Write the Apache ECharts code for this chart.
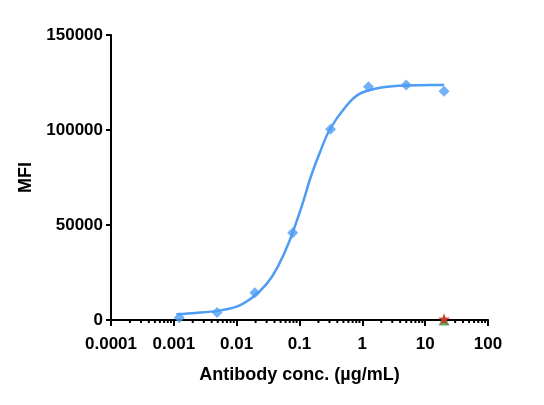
<!DOCTYPE html>
<html lang="en">
<head>
    <meta charset="UTF-8">
    <title>Antibody binding</title>
    <style>
        html, body { margin: 0; padding: 0; background: #fff; }
    </style>
</head>
<body>
    <div id="chartDiv" style="width: 544px;height:405px;"></div>
</body>
<script type="text/javascript" src="https://cdn.jsdelivr.net/npm/echarts@6/dist/echarts.min.js"></script>
<script type="text/javascript">
    // measured points (ug/mL, MFI)
    var concList = [0.00122, 0.00488, 0.0195, 0.078, 0.3125, 1.25, 5, 20];
    var mfiList = [1200, 4000, 14400, 45900, 100400, 122800, 123700, 120400];

    // fitted curve
    var curveX = [0.0011, 0.0022, 0.005, 0.01, 0.018, 0.03, 0.045, 0.07, 0.11, 0.15, 0.21, 0.3, 0.55, 0.9, 1.9, 4, 8, 20];
    var curveY = [3000, 3700, 4800, 7000, 12000, 19000, 28000, 42000, 60500, 75000, 88000, 100000, 112500, 119000, 122200, 123300, 123600, 123700];

    // negative controls at top concentration
    var ctrlGreen = [[20, 0]];
    var ctrlRed = [[20, 0]];

    var xTickLabels = ['0.0001', '0.001', '0.01', '0.1', '1', '10', '100'];
    var yTicks = [0, 50000, 100000, 150000];

    // minor tick values between decades
    var minorTicks = [];
    for (var d = -4; d < 2; d++) {
        for (var k = 2; k <= 9; k++) {
            minorTicks.push(k * Math.pow(10, d));
        }
    }

    var myChart = echarts.init(document.getElementById('chartDiv'));
    var fontFamily = 'Liberation Sans, Arial, sans-serif';
    var blue = '#4f9cf5';

    var option = {
        animation: false,
        grid: { left: 111, right: 56, top: 35, bottom: 85 },
        xAxis: {
            type: 'log',
            logBase: 10,
            min: 0.0001,
            max: 100,
            name: 'Antibody conc. (µg/mL)',
            nameLocation: 'middle',
            nameGap: 46,
            nameTextStyle: { color: '#000', fontWeight: 'bold', fontSize: 18, fontFamily: fontFamily },
            axisLine: { lineStyle: { color: '#000', width: 2 } },
            axisTick: { length: 6, lineStyle: { color: '#000', width: 2 } },
            splitLine: { show: false },
            axisLabel: {
                color: '#000', fontWeight: 'bold', fontSize: 17, fontFamily: fontFamily, margin: 16,
                formatter: function (value, index) { return xTickLabels[index]; }
            }
        },
        yAxis: {
            type: 'value',
            min: yTicks[0],
            max: yTicks[yTicks.length - 1],
            interval: 50000,
            name: 'MFI',
            nameLocation: 'middle',
            nameGap: 70,
            nameTextStyle: { color: '#000', fontWeight: 'bold', fontSize: 18, fontFamily: fontFamily },
            axisLine: { show: true, lineStyle: { color: '#000', width: 2 } },
            axisTick: { show: true, length: 5, lineStyle: { color: '#000', width: 2 } },
            splitLine: { show: false },
            axisLabel: {
                color: '#000', fontWeight: 'bold', fontSize: 17, fontFamily: fontFamily, margin: 8,
                formatter: function (value) { return String(value); }
            }
        },
        series: [
            {
                type: 'custom',
                clip: false,
                silent: true,
                data: minorTicks,
                encode: { x: 0 },
                renderItem: function (params, api) {
                    var p = api.coord([api.value(0), 0]);
                    return {
                        type: 'line',
                        shape: { x1: p[0], y1: p[1], x2: p[0], y2: p[1] + 3 },
                        style: { stroke: '#000', lineWidth: 2 }
                    };
                }
            },
            {
                type: 'line',
                data: curveX.map(function (x, i) { return [x, curveY[i]]; }),
                smooth: 0.3,
                symbol: 'none',
                lineStyle: { color: blue, width: 2.5 }
            },
            {
                type: 'scatter',
                data: concList.map(function (x, i) { return [x, mfiList[i]]; }),
                symbol: 'diamond',
                symbolSize: 11,
                itemStyle: { color: blue }
            },
            {
                type: 'scatter',
                data: ctrlGreen,
                symbol: 'triangle',
                symbolSize: 11,
                clip: false,
                itemStyle: { color: '#2f9e3f' }
            },
            {
                type: 'scatter',
                data: ctrlRed,
                symbol: 'path://M50,0 L61,35 L98,35 L68,57 L79,91 L50,70 L21,91 L32,57 L2,35 L39,35 Z',
                symbolSize: 12,
                symbolOffset: [0, -1],
                clip: false,
                itemStyle: { color: '#e8261c' }
            }
        ]
    };

    myChart.setOption(option);
</script>
</html>
